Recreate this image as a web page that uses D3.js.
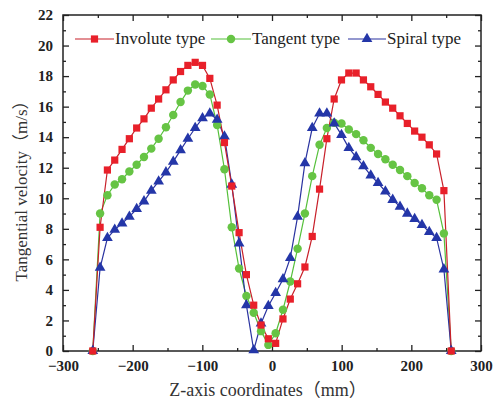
<!DOCTYPE html>
<html>
<head>
<meta charset="utf-8">
<script src="https://cdn.jsdelivr.net/npm/d3@7"></script>
<style>
  html, body { margin: 0; padding: 0; background: #fff; }
  svg { display: block; }
</style>
</head>
<body>
<svg id="chart" width="494" height="404"></svg>
<script>
// Z positions along the axis (mm), 50 stations at 10.5 mm spacing
const zCoords = d3.range(50).map(i => -257.25 + 10.5 * i);

// Tangential velocity (m/s) for each inlet type
const involute = [0, 8.1, 11.85, 12.5, 13.2, 13.9, 14.6, 15.2, 15.9, 16.5,
  17.1, 17.75, 18.3, 18.7, 18.9, 18.7, 17.85, 16.1, 13.65, 10.8,
  7.75, 5.0, 3.0, 1.7, 0.8, 0.5, 2.1, 3.4, 4.4, 5.5,
  7.5, 10.6, 13.9, 16.5, 17.75, 18.2, 18.2, 17.75, 17.3, 16.8,
  16.3, 15.9, 15.4, 14.9, 14.4, 14.0, 13.5, 12.9, 10.5, 0];
const tangent = [0, 9.0, 10.2, 10.9, 11.25, 11.75, 12.2, 12.7, 13.25, 13.9,
  14.65, 15.45, 16.3, 17.05, 17.45, 17.35, 16.8, 14.8, 11.9, 8.1,
  5.4, 3.6, 2.5, 1.3, 0.4, 1.16, 2.7, 4.55, 6.7, 9.0,
  11.45, 13.5, 14.6, 14.95, 14.9, 14.5, 14.2, 13.8, 13.3, 12.9,
  12.55, 12.2, 11.85, 11.45, 11.0, 10.65, 10.2, 9.9, 7.7, 0];
const spiral = [0, 5.45, 7.4, 7.95, 8.35, 8.8, 9.3, 9.8, 10.5, 11.1,
  11.7, 12.4, 13.15, 13.9, 14.6, 15.25, 15.55, 15.15, 14.05, 10.9,
  7.05, 3.0, 0.05, 1.8, 2.95, 3.8, 4.7, 6.1, 8.8, 12.3,
  14.6, 15.55, 15.55, 14.9, 14.15, 13.3, 12.7, 12.1, 11.5, 11.0,
  10.45, 9.9, 9.45, 9.0, 8.65, 8.25, 7.8, 7.4, 5.35, 0];

const seriesNames = ["Involute type", "Tangent type", "Spiral type"];
const xTicks = [-300, -200, -100, 0, 100, 200, 300];
const yTicks = [0, 2, 4, 6, 8, 10, 12, 14, 16, 18, 20, 22];

const svg = d3.select("#chart");
const margin = { left: 63, right: 13, top: 15, bottom: 53 };
const W = 494, H = 404;
const x = d3.scaleLinear().domain([-300, 300]).range([margin.left, W - margin.right]);
const y = d3.scaleLinear().domain([0, 22]).range([H - margin.bottom, margin.top]);

const serif = "'Liberation Serif', 'Times New Roman', 'Noto Sans CJK SC', serif";
const ink = "#222";

const series = [
  { name: seriesNames[0], values: involute, line: "#c8202a", fill: "#e8202a", shape: d3.symbolSquare, size: 52 },
  { name: seriesNames[1], values: tangent, line: "#55c03a", fill: "#66c444", shape: d3.symbolCircle, size: 56 },
  { name: seriesNames[2], values: spiral, line: "#2a33a0", fill: "#2436a8", shape: d3.symbolTriangle, size: 50 }
];

// Axes: ticks pointing inward on all four sides, minor ticks between majors
function styleAxis(g) {
  g.select(".domain").remove();
  g.selectAll(".tick line").attr("stroke", ink).attr("stroke-width", 1.3);
}
const xMinor = d3.range(-250, 300, 100);
const yMinor = d3.range(1, 22, 2);

const gx = svg.append("g").attr("transform", `translate(0,${y(0)})`)
  .call(d3.axisBottom(x).tickValues(xTicks).tickSize(-6).tickPadding(9).tickFormat(d3.format("d")));
styleAxis(gx);
svg.append("g").attr("transform", `translate(0,${y(0)})`)
  .call(d3.axisBottom(x).tickValues(xMinor).tickSize(-3).tickFormat("")).call(styleAxis);
svg.append("g").attr("transform", `translate(0,${y(22)})`)
  .call(d3.axisTop(x).tickValues(xTicks).tickSize(-6).tickFormat("")).call(styleAxis);
svg.append("g").attr("transform", `translate(0,${y(22)})`)
  .call(d3.axisTop(x).tickValues(xMinor).tickSize(-3).tickFormat("")).call(styleAxis);

const gy = svg.append("g").attr("transform", `translate(${x(-300)},0)`)
  .call(d3.axisLeft(y).tickValues(yTicks).tickSize(-6).tickPadding(10).tickFormat(d3.format("d")));
styleAxis(gy);
svg.append("g").attr("transform", `translate(${x(-300)},0)`)
  .call(d3.axisLeft(y).tickValues(yMinor).tickSize(-3).tickFormat("")).call(styleAxis);
svg.append("g").attr("transform", `translate(${x(300)},0)`)
  .call(d3.axisRight(y).tickValues(yTicks).tickSize(-6).tickFormat("")).call(styleAxis);
svg.append("g").attr("transform", `translate(${x(300)},0)`)
  .call(d3.axisRight(y).tickValues(yMinor).tickSize(-3).tickFormat("")).call(styleAxis);

[gx, gy].forEach(g => g.selectAll(".tick text")
  .attr("font-family", serif).attr("font-weight", "bold")
  .attr("font-size", 15).attr("fill", ink));

// Plot frame
svg.append("rect")
  .attr("x", x(-300)).attr("y", y(22))
  .attr("width", x(300) - x(-300)).attr("height", y(0) - y(22))
  .attr("fill", "none").attr("stroke", ink).attr("stroke-width", 1.5);

// Series lines and markers
const line = d3.line().x((d, i) => x(zCoords[i])).y(d => y(d));
const drawOrder = [series[1], series[2], series[0]];
drawOrder.forEach(s => {
  svg.append("path").datum(s.values)
    .attr("d", line).attr("fill", "none")
    .attr("stroke", s.line).attr("stroke-width", 1.2);
});
drawOrder.forEach(s => {
  const sym = d3.symbol().type(s.shape).size(s.size);
  svg.append("g").selectAll("path").data(s.values).join("path")
    .attr("d", sym)
    .attr("transform", (d, i) => `translate(${x(zCoords[i])},${y(d)})`)
    .attr("fill", s.fill);
});

// Legend across the top of the plot
const legendY = 39;
const legendItems = [
  { s: series[0], x0: 75, x1: 114 },
  { s: series[1], x0: 211, x1: 251 },
  { s: series[2], x0: 348, x1: 386 }
];
legendItems.forEach(it => {
  const g = svg.append("g");
  g.append("line").attr("x1", it.x0).attr("x2", it.x1)
    .attr("y1", legendY).attr("y2", legendY)
    .attr("stroke", it.s.line).attr("stroke-width", 1.2);
  g.append("path").attr("d", d3.symbol().type(it.s.shape).size(it.s.size)())
    .attr("transform", `translate(${(it.x0 + it.x1) / 2},${legendY})`)
    .attr("fill", it.s.fill);
  g.append("text").attr("x", it.x1 + 1).attr("y", legendY + 5)
    .attr("font-family", serif).attr("font-size", 17).attr("fill", ink)
    .text(it.s.name);
});

// Axis titles
svg.append("text")
  .attr("x", (x(-300) + x(300)) / 2 - 4).attr("y", 396)
  .attr("text-anchor", "middle")
  .attr("font-family", serif).attr("font-size", 18).attr("fill", "#333")
  .text("Z-axis coordinates（mm）");
svg.append("text")
  .attr("transform", `translate(27,${(y(0) + y(22)) / 2 + 4}) rotate(-90)`)
  .attr("text-anchor", "middle")
  .attr("font-family", serif).attr("font-size", 17).attr("fill", "#333")
  .text("Tangential velocity（m/s）");
</script>
</body>
</html>
